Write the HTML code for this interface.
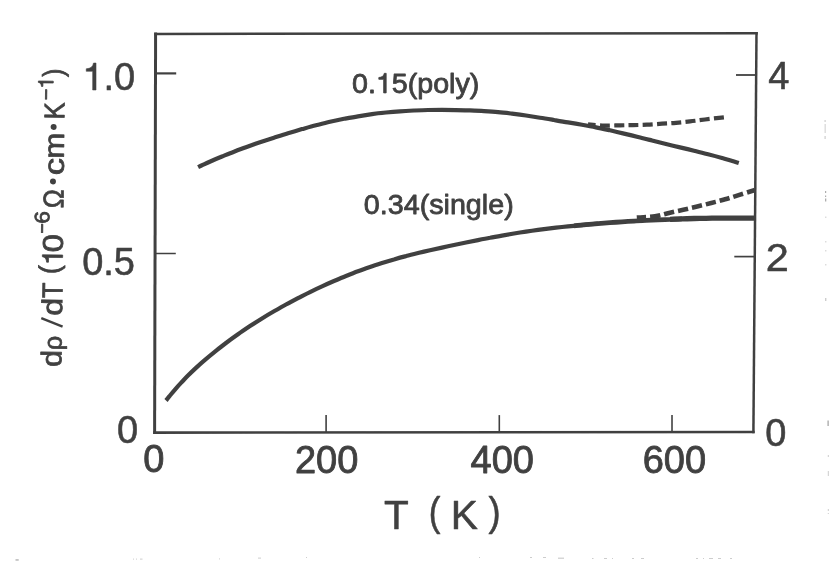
<!DOCTYPE html>
<html><head><meta charset="utf-8"><title>chart</title>
<style>
html,body{margin:0;padding:0;background:#fff;}
body{width:830px;height:568px;overflow:hidden;position:relative;}
svg{position:absolute;left:0;top:0;display:block;}
text{font-family:"Liberation Sans",sans-serif;fill:#414141;stroke:#414141;stroke-width:0.55px;stroke-linejoin:round;}
.an text{stroke-width:0.8px;}
.xt text{stroke-width:0.85px;}
.yl text{stroke-width:0.75px;}
</style></head><body>
<svg width="830" height="568" viewBox="0 0 830 568">
<defs><filter id="scan" x="0" y="0" width="830" height="568" filterUnits="userSpaceOnUse"><feGaussianBlur stdDeviation="0.45"/></filter></defs>
<rect x="0" y="0" width="830" height="568" fill="#ffffff"/>
<g filter="url(#scan)">
<g fill="none" stroke="#414141" stroke-linecap="butt" stroke-linejoin="miter">
<!-- frame -->
<line x1="155.6" y1="32.6" x2="154.6" y2="434.0" stroke-width="3.0"/>
<line x1="756.5" y1="32.0" x2="753.4" y2="433.2" stroke-width="2.5"/>
<line x1="154.2" y1="33.9" x2="757.8" y2="33.2" stroke-width="2.5"/>
<line x1="153.2" y1="432.6" x2="754.7" y2="432.0" stroke-width="2.6"/>
<!-- left ticks -->
<line x1="156" y1="73.4" x2="176.2" y2="73.4" stroke-width="2.2"/>
<line x1="155.5" y1="253.5" x2="175.8" y2="253.5" stroke-width="1.5"/>
<!-- right ticks -->
<line x1="736" y1="75.0" x2="756" y2="75.0" stroke-width="1.8"/>
<line x1="734.3" y1="256.6" x2="755" y2="256.6" stroke-width="1.7"/>
<!-- bottom ticks -->
<line x1="326.1" y1="414.9" x2="326.1" y2="432.5" stroke-width="1.6"/>
<line x1="499.3" y1="415.1" x2="499.3" y2="432.5" stroke-width="1.6"/>
<line x1="672" y1="414.9" x2="672" y2="432" stroke-width="1.6"/>
<!-- curves -->
<path d="M198.1,167.1 C199.1,166.6 201.7,165.4 204.0,164.3 C206.3,163.2 209.0,162.0 212.0,160.7 C215.0,159.4 218.3,158.0 222.0,156.5 C225.7,155.0 230.0,153.2 234.0,151.7 C238.0,150.1 241.7,148.8 246.0,147.2 C250.3,145.7 255.3,143.9 260.0,142.3 C264.7,140.7 269.3,139.2 274.0,137.7 C278.7,136.2 283.3,134.7 288.0,133.3 C292.7,131.9 297.3,130.5 302.0,129.1 C306.7,127.8 311.3,126.5 316.0,125.3 C320.7,124.1 325.3,122.9 330.0,121.8 C334.7,120.8 339.3,119.8 344.0,118.8 C348.7,117.9 353.3,117.0 358.0,116.3 C362.7,115.5 367.3,114.8 372.0,114.1 C376.7,113.5 381.3,113.0 386.0,112.5 C390.7,112.0 395.3,111.6 400.0,111.3 C404.7,110.9 409.3,110.7 414.0,110.5 C418.7,110.3 423.3,110.1 428.0,110.0 C432.7,109.9 437.3,109.9 442.0,109.9 C446.7,109.9 451.3,110.0 456.0,110.1 C460.7,110.1 465.3,110.3 470.0,110.4 C474.7,110.6 479.3,110.8 484.0,111.1 C488.7,111.4 493.3,111.7 498.0,112.2 C502.7,112.6 507.3,113.1 512.0,113.6 C516.7,114.2 521.3,114.8 526.0,115.5 C530.7,116.2 535.3,116.9 540.0,117.7 C544.7,118.4 549.3,119.2 554.0,120.0 C558.7,120.8 563.3,121.6 568.0,122.3 C572.7,123.1 577.3,123.9 582.0,124.8 C586.7,125.6 591.3,126.4 596.0,127.4 C600.7,128.3 605.3,129.3 610.0,130.3 C614.7,131.4 619.3,132.5 624.0,133.6 C628.7,134.7 633.3,135.8 638.0,137.0 C642.7,138.1 647.3,139.3 652.0,140.5 C656.7,141.7 661.3,142.8 666.0,144.0 C670.7,145.1 675.3,146.3 680.0,147.4 C684.7,148.5 689.3,149.6 694.0,150.8 C698.7,151.9 703.3,153.1 708.0,154.3 C712.7,155.5 716.9,156.6 722.0,158.0 C727.1,159.5 736.0,162.1 738.8,163.0" stroke-width="4.2"/>
<path d="M166.0,400.5 C166.7,399.7 168.5,397.4 170.0,395.5 C171.5,393.7 173.2,391.7 175.0,389.6 C176.8,387.5 178.8,385.2 181.0,382.9 C183.2,380.6 185.5,378.1 188.0,375.6 C190.5,373.1 193.2,370.5 196.0,367.9 C198.8,365.3 201.8,362.6 205.0,359.9 C208.2,357.1 211.5,354.4 215.0,351.6 C218.5,348.7 222.2,345.9 226.0,343.0 C229.8,340.1 234.0,337.1 238.0,334.3 C242.0,331.5 246.0,328.8 250.0,326.1 C254.0,323.5 258.0,321.0 262.0,318.5 C266.0,316.0 270.0,313.6 274.0,311.3 C278.0,309.0 282.0,306.7 286.0,304.5 C290.0,302.3 294.0,300.2 298.0,298.1 C302.0,296.1 306.0,294.0 310.0,292.1 C314.0,290.1 318.0,288.2 322.0,286.4 C326.0,284.5 330.0,282.7 334.0,281.0 C338.0,279.3 342.0,277.6 346.0,276.0 C350.0,274.4 354.0,272.8 358.0,271.3 C362.0,269.8 366.0,268.4 370.0,267.0 C374.0,265.6 378.0,264.3 382.0,263.0 C386.0,261.7 390.0,260.5 394.0,259.4 C398.0,258.2 402.0,257.1 406.0,256.1 C410.0,255.0 414.0,254.0 418.0,253.0 C422.0,252.1 426.0,251.2 430.0,250.3 C434.0,249.4 438.0,248.5 442.0,247.6 C446.0,246.7 450.0,245.9 454.0,245.0 C458.0,244.2 462.0,243.3 466.0,242.5 C470.0,241.7 474.0,240.9 478.0,240.1 C482.0,239.3 486.0,238.5 490.0,237.8 C494.0,237.0 498.0,236.3 502.0,235.6 C506.0,234.9 510.0,234.2 514.0,233.5 C518.0,232.9 522.0,232.2 526.0,231.6 C530.0,231.0 534.0,230.5 538.0,229.9 C542.0,229.4 546.0,228.9 550.0,228.4 C554.0,227.9 558.0,227.5 562.0,227.0 C566.0,226.6 570.0,226.2 574.0,225.8 C578.0,225.4 582.0,225.0 586.0,224.7 C590.0,224.3 596.0,223.8 598.0,223.6" stroke-width="4.2"/>
<path d="M574.0,225.8 C576.0,225.6 582.0,225.0 586.0,224.7 C590.0,224.3 594.0,224.0 598.0,223.6 C602.0,223.3 606.0,223.0 610.0,222.7 C614.0,222.4 618.0,222.1 622.0,221.8 C626.0,221.6 630.0,221.3 634.0,221.1 C638.0,220.8 642.0,220.6 646.0,220.4 C650.0,220.2 654.0,220.0 658.0,219.8 C662.0,219.6 666.0,219.4 670.0,219.3 C674.0,219.1 680.0,218.9 682.0,218.9" stroke-width="4.8"/>
<path d="M670.0,219.3 C672.0,219.2 678.0,219.0 682.0,218.9 C686.0,218.7 690.0,218.6 694.0,218.5 C698.0,218.4 702.0,218.4 706.0,218.3 C710.0,218.2 714.0,218.2 718.0,218.1 C722.0,218.1 726.0,218.1 730.0,218.1 C734.0,218.0 738.0,218.0 742.0,218.1 C746.0,218.1 752.0,218.1 754.0,218.1" stroke-width="5.3"/>
<path d="M588.0,124.4 C590.7,124.6 598.7,125.4 604.0,125.6 C609.3,125.8 615.2,125.4 620.0,125.3 C624.8,125.2 628.5,125.2 633.0,125.1 C637.5,125.0 642.2,124.9 647.0,124.7 C651.8,124.5 657.2,124.0 662.0,123.7 C666.8,123.4 671.3,123.2 676.0,122.8 C680.7,122.4 685.2,122.0 690.0,121.4 C694.8,120.9 699.3,120.2 705.0,119.5 C710.7,118.8 720.8,117.7 724.0,117.3" stroke-width="4.2" stroke-dasharray="10 4.3" stroke-dashoffset="2.4"/>
<path d="M636.8,217.6 C639.8,217.4 649.6,217.2 655.0,216.4 C660.4,215.6 664.3,214.1 669.0,213.0 C673.7,211.9 678.6,210.9 683.3,209.8 C688.0,208.7 692.5,207.6 697.2,206.5 C701.9,205.4 706.6,204.2 711.3,203.0 C715.9,201.8 720.4,200.7 725.1,199.3 C729.8,198.0 734.4,196.5 739.4,194.9 C744.4,193.3 752.4,190.8 755.0,190.0" stroke-width="4.6" stroke-dasharray="10.3 4" stroke-dashoffset="1"/>
</g>
<!-- scan specks -->
<g fill="#cdcdcd">
<rect x="15.5" y="559.3" width="3.2" height="1.3" fill="#adadad"/>
<rect x="133" y="558.6" width="1" height="1"/><rect x="136" y="558.6" width="1" height="1"/><rect x="140" y="558.6" width="2.5" height="1"/>
<rect x="219" y="558.4" width="1" height="1"/><rect x="258" y="557.6" width="3" height="1"/>
<rect x="306" y="557" width="1" height="1"/><rect x="479" y="557" width="1" height="1"/><rect x="530" y="557" width="2" height="1"/><rect x="543" y="557" width="3" height="1"/>
<rect x="558" y="557.6" width="6" height="1.2"/><rect x="592" y="558" width="1.5" height="1"/><rect x="604" y="558" width="3" height="1"/><rect x="612" y="558" width="1" height="1"/>
<rect x="632" y="558" width="2" height="1"/><rect x="641" y="558" width="3" height="1"/><rect x="696" y="558" width="2" height="1"/><rect x="703" y="558" width="1" height="1"/>
<rect x="709" y="558" width="4" height="1"/><rect x="718" y="558" width="3" height="1"/><rect x="730" y="558" width="2" height="1"/>
<rect x="824.5" y="120" width="1.2" height="2"/><rect x="824.5" y="124" width="1.4" height="9" fill="#dcdcdc"/><rect x="824.5" y="136" width="1.2" height="3"/>
<rect x="825" y="191" width="1.2" height="2" fill="#adadad"/><rect x="825" y="195.5" width="1.2" height="1.5" fill="#adadad"/><rect x="825" y="198.5" width="1.3" height="3" fill="#adadad"/>
<rect x="825.3" y="216.5" width="1" height="1.5"/><rect x="825.3" y="241" width="1" height="1.5"/><rect x="825.3" y="250" width="1" height="1.5"/><rect x="825.3" y="264" width="1" height="1.5"/><rect x="825" y="298" width="1.4" height="3"/>
<rect x="827.5" y="420.5" width="1.2" height="5.5" fill="#a0a0a0"/><rect x="827.8" y="455" width="1" height="2"/><rect x="827.8" y="471" width="1" height="5"/><rect x="827.8" y="509" width="1" height="2"/><rect x="827.8" y="513" width="1" height="1"/>
</g>
<!-- y tick labels left -->
<path d="M359,0 L359,709 L292,709 C280,615 214,562 102,558 L102,492 L271,492 L271,0 Z" transform="translate(82.38,90.00) scale(0.03800,-0.03800)" fill="#414141" stroke="#414141" stroke-width="14.5" /><text x="103.51" y="90.0" font-size="38" text-anchor="start" >.0</text>
<text x="135.0" y="274.7" font-size="38" text-anchor="end" >0.5</text>
<text x="127.5" y="443.4" font-size="38" text-anchor="middle" >0</text>
<!-- y tick labels right -->
<text x="778.7" y="89.0" font-size="38" text-anchor="middle" >4</text>
<g transform="translate(777.15,271.4) scale(1.091,1)"><text x="-10.56" y="0" font-size="38">2</text></g>
<text x="775.9" y="446.3" font-size="38" text-anchor="middle" >0</text>
<!-- x tick labels -->
<g class="xt">
<text x="153.8" y="472.4" font-size="38" text-anchor="middle" >0</text>
<text x="326.6" y="472.5" font-size="38" text-anchor="middle" >200</text>
<text x="502.3" y="472.8" font-size="38" text-anchor="middle" >400</text>
<text x="674.4" y="473.2" font-size="38" text-anchor="middle" >600</text>
</g>
<!-- x axis title -->
<g transform="translate(396.25,528.6) scale(0.989,1)"><text x="-12.50" y="0" font-size="41">T</text></g>
<g transform="translate(435.70,526.0) scale(0.876,1)"><text x="-7.80" y="0" font-size="40">(</text></g>
<g transform="translate(465.65,528.6) scale(0.992,1)"><text x="-15.13" y="0" font-size="41">K</text></g>
<g transform="translate(493.50,526.0) scale(0.912,1)"><text x="-5.52" y="0" font-size="40">)</text></g>
<!-- annotations -->
<g class="an" transform="translate(352,92.9) scale(1.038,1)"><text x="0" y="0" font-size="27.6" text-anchor="start" >0.</text><path d="M359,0 L359,709 L292,709 C280,615 214,562 102,558 L102,492 L271,492 L271,0 Z" transform="translate(23.02,0.00) scale(0.02760,-0.02760)" fill="#414141" stroke="#414141" stroke-width="29.0" /><text x="38.36" y="0" font-size="27.6" text-anchor="start" >5(poly)</text></g>
<g class="an" transform="translate(363.8,214.2) scale(1.025,1)"><text x="0" y="0" font-size="28" text-anchor="start" >0.34(single)</text></g>
<!-- y axis title -->
<g class="yl" transform="translate(61.3,366.1) rotate(-89.3)">
<g transform="translate(7.10,0) scale(1.058,1)"><text x="-7.64" y="0" font-size="28.6">d</text></g>
<g transform="translate(23.35,0) scale(0.991,1)"><text x="-7.56" y="0" font-size="25.5">ρ</text></g>
<line x1="39.5" y1="0.8" x2="47.7" y2="-20.6" stroke="#414141" stroke-width="2.5"/>
<g transform="translate(59.00,0) scale(1.118,1)"><text x="-7.64" y="0" font-size="28.6">d</text></g>
<g transform="translate(75.70,0) scale(0.896,1)"><text x="-8.72" y="0" font-size="28.6">T</text></g>
<g transform="translate(97.05,-3.5) scale(0.944,1)"><text x="-5.58" y="0" font-size="28.6">(</text></g>
<path d="M359,0 L359,709 L292,709 C280,615 214,562 102,558 L102,492 L271,492 L271,0 Z" transform="translate(100.81,0.00) scale(0.02860,-0.02860)" fill="#414141" stroke="#414141" stroke-width="26.2" />
<g transform="translate(122.70,0) scale(1.151,1)"><text x="-7.97" y="0" font-size="28.6">0</text></g>
<g transform="translate(137.45,-13.8) scale(0.850,1)"><text x="-6.14" y="0" font-size="21">−</text></g>
<g transform="translate(148.65,-13.8) scale(1.081,1)"><text x="-5.91" y="0" font-size="21">6</text></g>
<g transform="translate(167.30,0) scale(0.882,1)"><text x="-10.68" y="0" font-size="28.6">Ω</text></g>
<circle cx="184.6" cy="-10.6" r="3.0" fill="#414141"/>
<g transform="translate(199.60,0) scale(1.193,1)"><text x="-7.38" y="0" font-size="28.6">c</text></g>
<g transform="translate(220.35,0) scale(1.091,1)"><text x="-11.93" y="0" font-size="28.6">m</text></g>
<circle cx="239.1" cy="-10.6" r="3.0" fill="#414141"/>
<g transform="translate(256.00,0) scale(0.896,1)"><text x="-10.55" y="0" font-size="28.6">K</text></g>
<g transform="translate(271.45,-11.5) scale(0.937,1)"><text x="-6.14" y="0" font-size="21">−</text></g>
<path d="M359,0 L359,709 L292,709 C280,615 214,562 102,558 L102,492 L271,492 L271,0 Z" transform="translate(277.26,-11.50) scale(0.02100,-0.02100)" fill="#414141" stroke="#414141" stroke-width="35.7" />
<g transform="translate(292.45,-2.0) scale(0.870,1)"><text x="-3.95" y="0" font-size="28.6">)</text></g>
</g>
</g>
</svg>
</body></html>
